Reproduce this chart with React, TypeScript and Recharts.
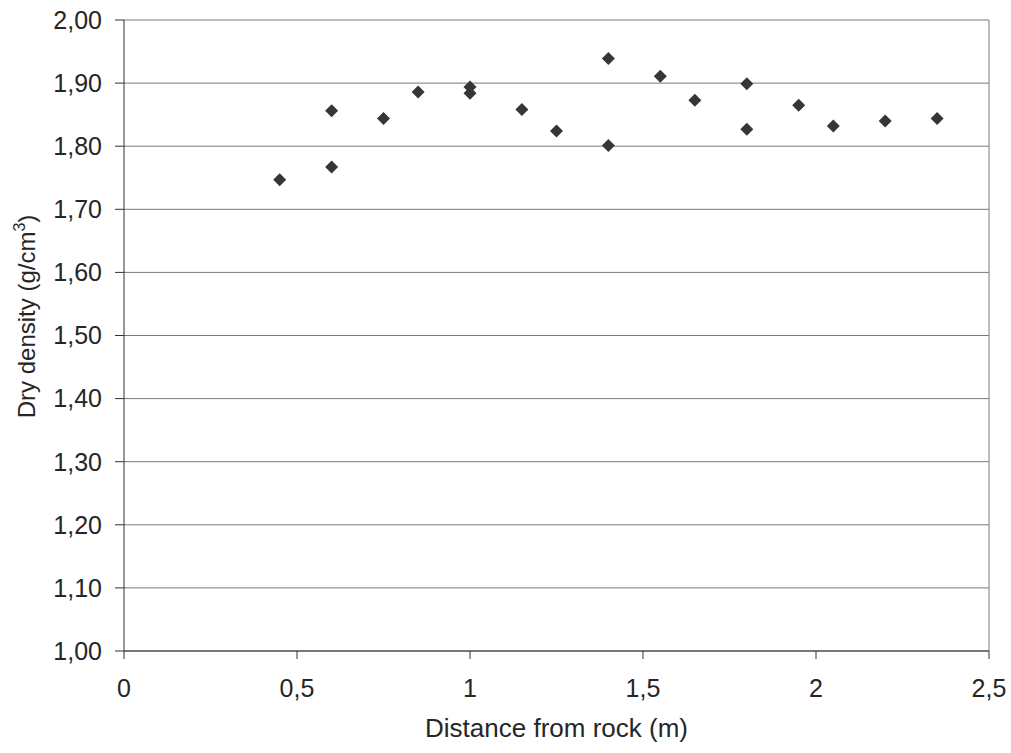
import {
    CartesianGrid,
    ReferenceLine,
    Scatter,
    ScatterChart,
    XAxis,
    YAxis,
} from 'recharts';

// distance from rock (m) and dry density (g/cm3)
const DISTANCES = [
    0.45, 0.6, 0.6, 0.75, 0.85, 1.0, 1.0, 1.15, 1.25, 1.4, 1.4, 1.55, 1.65,
    1.8, 1.8, 1.95, 2.05, 2.2, 2.35,
];
const DENSITIES = [
    1.747, 1.767, 1.856, 1.844, 1.886, 1.894, 1.884, 1.858, 1.824, 1.939,
    1.801, 1.911, 1.873, 1.899, 1.827, 1.865, 1.832, 1.84, 1.844,
];

const X_TICKS = [0, 0.5, 1, 1.5, 2, 2.5];
const Y_TICKS = [1.0, 1.1, 1.2, 1.3, 1.4, 1.5, 1.6, 1.7, 1.8, 1.9, 2.0];

const FONT = '"Liberation Sans", Arial, sans-serif';
const TEXT_COLOR = '#262626';
const AXIS_COLOR = '#333333';
const GRID_COLOR = '#7a7a7a';
const MARKER_COLOR = '#363636';

const points = DISTANCES.map((distance, index) => ({
    distance,
    density: DENSITIES[index],
}));

function formatX(value: number) {
    return String(value).replace('.', ',');
}

function formatY(value: number) {
    return value.toFixed(2).replace('.', ',');
}

function Diamond(props: any) {
    const { cx, cy } = props;
    const r = 6.5;
    return (
        <polygon
            points={`${cx},${cy - r} ${cx + r},${cy} ${cx},${cy + r} ${cx - r},${cy}`}
            fill={MARKER_COLOR}
        />
    );
}

function YTitle(props: any) {
    const { viewBox } = props;
    const x = 35;
    const y = viewBox.y + viewBox.height / 2 - 19;
    return (
        <text
            x={x}
            y={y}
            transform={`rotate(-90, ${x}, ${y})`}
            textAnchor="middle"
            fontSize={24}
            fontFamily={FONT}
            fill={TEXT_COLOR}
        >
            <tspan>Dry density (g/cm</tspan>
            <tspan fontSize={16} dy={-10}>
                3
            </tspan>
            <tspan dy={10}>)</tspan>
        </text>
    );
}

function XTitle(props: any) {
    const { viewBox } = props;
    return (
        <text
            x={viewBox.x + viewBox.width / 2}
            y={viewBox.y + 86}
            textAnchor="middle"
            fontSize={26}
            fontFamily={FONT}
            fill={TEXT_COLOR}
        >
            Distance from rock (m)
        </text>
    );
}

export default function App() {
    return (
        <div style={{ position: 'absolute', left: 0, top: 0, background: '#fff' }}>
            <ScatterChart
                width={1011}
                height={753}
                margin={{ top: 20, right: 22, bottom: 0, left: 0 }}
            >
                <CartesianGrid vertical={false} stroke={GRID_COLOR} strokeWidth={1} />
                <XAxis
                    type="number"
                    dataKey="distance"
                    domain={[0, 2.5]}
                    ticks={X_TICKS}
                    tickFormatter={formatX}
                    height={102}
                    stroke={AXIS_COLOR}
                    tickSize={8}
                    tickMargin={20}
                    tick={{ fill: TEXT_COLOR, fontSize: 25, fontFamily: FONT }}
                    label={<XTitle />}
                />
                <YAxis
                    type="number"
                    dataKey="density"
                    domain={[1, 2]}
                    ticks={Y_TICKS}
                    tickFormatter={formatY}
                    width={124}
                    stroke={AXIS_COLOR}
                    tickSize={9}
                    tickMargin={13}
                    tick={{ fill: TEXT_COLOR, fontSize: 25, fontFamily: FONT }}
                    label={<YTitle />}
                />
                <ReferenceLine x={2.5} stroke={GRID_COLOR} strokeWidth={1} />
                <Scatter
                    data={points}
                    shape={<Diamond />}
                    isAnimationActive={false}
                />
            </ScatterChart>
        </div>
    );
}
